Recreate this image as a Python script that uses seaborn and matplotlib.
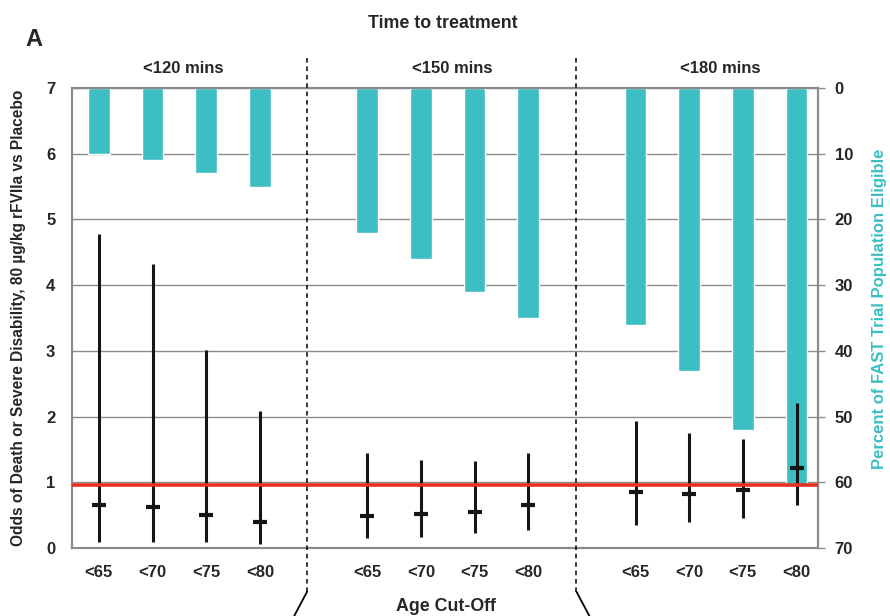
import numpy as np
import pandas as pd
import matplotlib
matplotlib.use("Agg")
import matplotlib.pyplot as plt
import matplotlib.transforms as mtransforms
import seaborn as sns

# values
time_groups = ["<120 mins", "<150 mins", "<180 mins"]
age_cutoffs = ["<65", "<70", "<75", "<80"]

pct_eligible = [10, 11, 13, 15,
                22, 26, 31, 35,
                36, 43, 52, 60.5]
odds_median = [0.65, 0.63, 0.50, 0.39,
               0.49, 0.52, 0.55, 0.65,
               0.85, 0.82, 0.88, 1.22]
odds_low = [0.09, 0.09, 0.09, 0.06,
            0.15, 0.17, 0.23, 0.27,
            0.35, 0.39, 0.46, 0.65]
odds_high = [4.78, 4.32, 3.01, 2.08,
             1.45, 1.34, 1.32, 1.45,
             1.93, 1.75, 1.66, 2.20]
ref_odds = 0.96

teal = "#3cbec3"
frame_grey = "#8a8a8a"

sns.set_theme(style="white")
plt.rcParams["font.family"] = ["Liberation Sans", "DejaVu Sans"]
plt.rcParams["font.weight"] = "bold"

rows = []
for g, grp in enumerate(time_groups):
    for i, age in enumerate(age_cutoffs):
        k = g * len(age_cutoffs) + i
        rows.append({"group": grp, "age": age, "pos": g * 5 + i,
                     "pct": pct_eligible[k], "med": odds_median[k],
                     "lo": odds_low[k], "hi": odds_high[k]})
df = pd.DataFrame(rows)

fig = plt.figure(figsize=(8.9, 6.16), dpi=100)
ax = fig.add_axes([0.0809, 0.1104, 0.8382, 0.7467])
ax2 = ax.twinx()

# bars hanging from the top on the (inverted) right axis
sns.barplot(data=df, x="pos", y="pct", native_scale=True, width=0.4,
            color=teal, saturation=1, ax=ax2, zorder=2)
ax2.set_ylim(70, 0)
ax2.set_yticks(np.arange(0, 71, 10))
ax2.yaxis.grid(True, color="#8c8c8c", linewidth=1)
ax2.xaxis.grid(False)
ax2.set_axisbelow(True)
ax2.set_ylabel("Percent of FAST Trial Population Eligible", color=teal,
               fontsize=12, fontweight="bold")
ax2.yaxis.set_label_coords(1.073, 0.52)
ax2.tick_params(axis="y", which="major", length=5, width=1, color=frame_grey,
                labelsize=12, pad=7, right=True)

# odds axis on top
ax.set_zorder(ax2.get_zorder() + 1)
ax.patch.set_visible(False)
ax.vlines(df["pos"], df["lo"], df["hi"], color="#151515", linewidth=2.2)
sns.scatterplot(data=df, x="pos", y="med", marker="_", s=110, linewidth=3,
                color="#151515", ax=ax, zorder=4)
ax.axhline(ref_odds, color="#e8301e", linewidth=2.6, zorder=3)
ax.set_ylim(0, 7)
ax.set_xlim(-0.5, 13.4)
ax.set_yticks(range(0, 8))
ax.set_xticks(df["pos"])
ax.set_xticklabels(df["age"])
ax.tick_params(axis="y", length=0, labelsize=12, pad=12)
ax.tick_params(axis="x", length=0, labelsize=12, pad=12)
ax.set_xlabel("")
ax.set_ylabel("Odds of Death or Severe Disability, 80 \u00b5g/kg rFVIIa vs Placebo",
              fontsize=11.2, fontweight="bold")
ax.yaxis.set_label_coords(-0.062, 0.5)
ax2.set_xlabel("")

for a in (ax, ax2):
    for s in a.spines.values():
        s.set_color(frame_grey)
        s.set_linewidth(1.5)

# group separators, extending past the frame
trans = mtransforms.blended_transform_factory(ax.transData, ax.transAxes)
for xs, sign in [(3.88, -1), (8.9, 1)]:
    ax.plot([xs, xs], [-0.095, 1.065], transform=trans, color="black",
            linestyle=(0, (3, 2.5)), linewidth=1.1, clip_on=False, zorder=5)
    ax.plot([xs, xs + sign * 0.25], [-0.095, -0.15], transform=trans,
            color="black", linewidth=1.3, clip_on=False)

for g, grp in enumerate(time_groups):
    ax.text(g * 5 + 1.58, 1.043, grp, transform=trans, ha="center",
            va="center", fontsize=12, fontweight="bold")

fig.text(0.497, 0.962, "Time to treatment", ha="center", va="center",
         fontsize=12.8, fontweight="bold")
fig.text(0.028, 0.936, "A", ha="left", va="center", fontsize=17,
         fontweight="bold")
fig.text(0.501, 0.016, "Age Cut-Off", ha="center", va="center",
         fontsize=12.8, fontweight="bold")

fig.savefig("out.png", dpi=100)
